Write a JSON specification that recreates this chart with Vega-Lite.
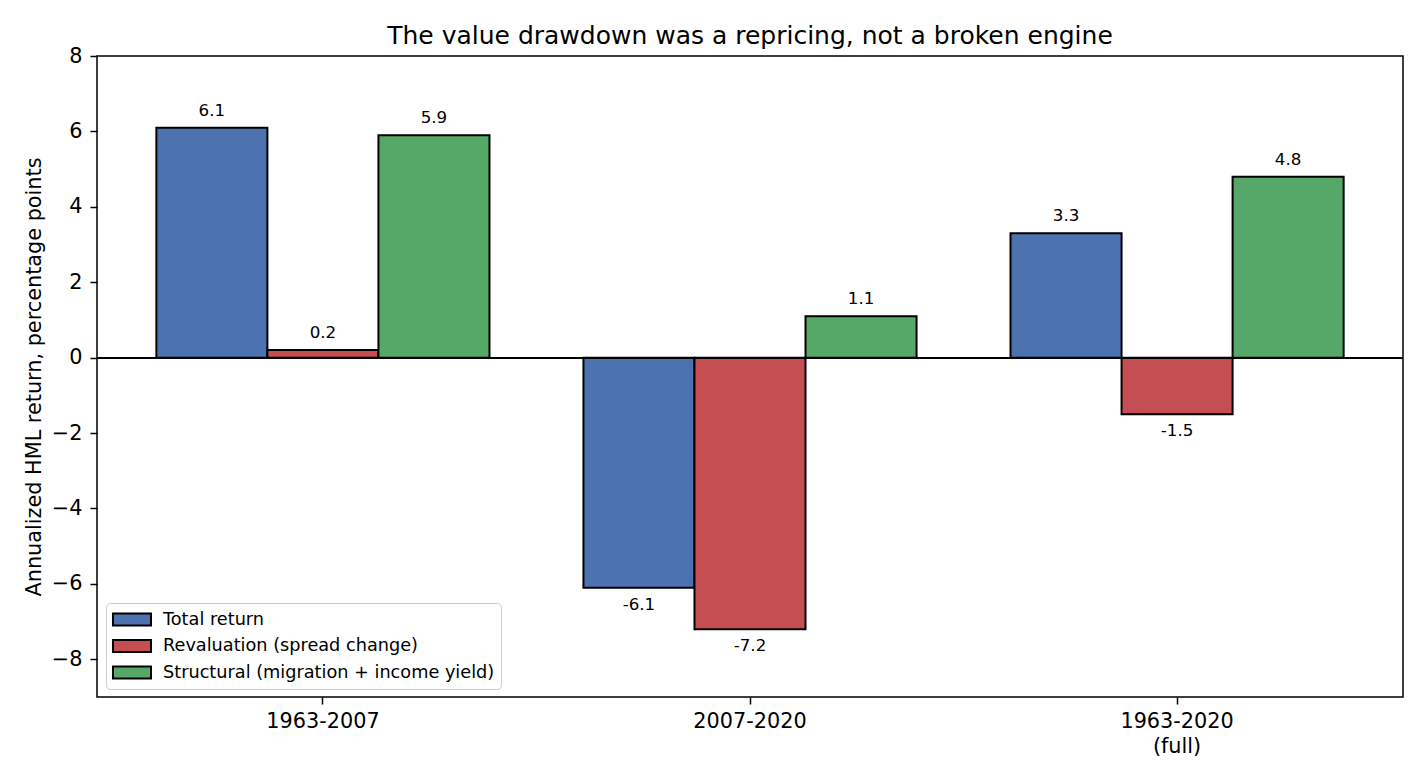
{
  "$schema": "https://vega.github.io/schema/vega-lite/v6.json",
  "width": 1306,
  "height": 641,
  "autosize": {"type": "none"},
  "padding": {"left": 97, "top": 56, "right": 22, "bottom": 83},
  "background": "white",
  "config": {
    "font": "DejaVu Sans",
    "view": {"stroke": "black", "strokeWidth": 1.5},
    "axis": {
      "domainColor": "black",
      "tickColor": "black",
      "labelColor": "black",
      "titleColor": "black",
      "labelFont": "DejaVu Sans",
      "titleFont": "DejaVu Sans",
      "grid": false
    }
  },
  "title": {
    "text": "The value drawdown was a repricing, not a broken engine",
    "font": "DejaVu Sans",
    "fontSize": 25,
    "fontWeight": "normal",
    "color": "black",
    "anchor": "middle",
    "baseline": "alphabetic",
    "offset": -24
  },
  "data": {
    "values": [
      {"period": "1963-2007", "series": "Total return", "value": 6.1, "label": "6.1"},
      {"period": "1963-2007", "series": "Revaluation (spread change)", "value": 0.2, "label": "0.2"},
      {"period": "1963-2007", "series": "Structural (migration + income yield)", "value": 5.9, "label": "5.9"},
      {"period": "2007-2020", "series": "Total return", "value": -6.1, "label": "-6.1"},
      {"period": "2007-2020", "series": "Revaluation (spread change)", "value": -7.2, "label": "-7.2"},
      {"period": "2007-2020", "series": "Structural (migration + income yield)", "value": 1.1, "label": "1.1"},
      {"period": "1963-2020 (full)", "series": "Total return", "value": 3.3, "label": "3.3"},
      {"period": "1963-2020 (full)", "series": "Revaluation (spread change)", "value": -1.5, "label": "-1.5"},
      {"period": "1963-2020 (full)", "series": "Structural (migration + income yield)", "value": 4.8, "label": "4.8"}
    ]
  },
  "layer": [
    {
      "mark": {"type": "bar", "stroke": "black", "strokeWidth": 2, "strokeJoin": "miter"},
      "encoding": {
        "x": {
          "field": "period", "type": "nominal",
          "sort": ["1963-2007", "2007-2020", "1963-2020 (full)"],
          "scale": {"paddingInner": 0.22, "paddingOuter": 0.139},
          "axis": {
            "title": null,
            "labelAngle": 0,
            "labelFontSize": 20.8,
            "labelPadding": 7,
            "labelLineHeight": 25,
            "tickSize": 7,
            "tickWidth": 1.5,
            "domain": false,
            "labelExpr": "split(datum.label, ' ')"
          }
        },
        "xOffset": {
          "field": "series", "type": "nominal",
          "sort": ["Total return", "Revaluation (spread change)", "Structural (migration + income yield)"],
          "scale": {"paddingInner": 0, "paddingOuter": 0}
        },
        "y": {
          "field": "value", "type": "quantitative",
          "scale": {"domain": [-9, 8], "nice": false, "zero": false},
          "axis": {
            "title": "Annualized HML return, percentage points",
            "titleFontSize": 20.8,
            "titleFontWeight": "normal",
            "titlePadding": 7,
            "values": [-8, -6, -4, -2, 0, 2, 4, 6, 8],
            "labelFontSize": 20.8,
            "labelPadding": 8,
            "tickSize": 7,
            "tickWidth": 1.5,
            "domain": false
          }
        },
        "color": {
          "field": "series", "type": "nominal",
          "sort": ["Total return", "Revaluation (spread change)", "Structural (migration + income yield)"],
          "scale": {"range": ["#4C72B0", "#C44E52", "#55A868"]},
          "legend": {
            "title": null,
            "orient": "none",
            "legendX": 9,
            "legendY": 547,
            "padding": 6,
            "strokeColor": "#cccccc",
            "fillColor": "rgba(255,255,255,0.8)",
            "cornerRadius": 4,
            "labelFontSize": 17.7,
            "labelColor": "black",
            "labelFont": "DejaVu Sans",
            "labelOffset": 30,
            "labelLimit": 500,
            "rowPadding": 5.5,
            "symbolType": "M-1,-0.64L3,-0.64L3,0.64L-1,0.64Z",
            "symbolSize": 361,
            "symbolStrokeColor": "black",
            "symbolStrokeWidth": 2,
            "symbolOpacity": 1,
            "symbolFillOpacity": 1
          }
        }
      }
    },
    {
      "mark": {"type": "rule", "color": "black", "strokeWidth": 1.5},
      "encoding": {"y": {"datum": 0}}
    },
    {
      "transform": [{"filter": "datum.value >= 0"}],
      "mark": {"type": "text", "baseline": "middle", "dy": -17, "fontSize": 16.7, "color": "black", "font": "DejaVu Sans"},
      "encoding": {
        "x": {"field": "period", "type": "nominal", "sort": ["1963-2007", "2007-2020", "1963-2020 (full)"]},
        "xOffset": {"field": "series", "type": "nominal", "sort": ["Total return", "Revaluation (spread change)", "Structural (migration + income yield)"]},
        "y": {"field": "value", "type": "quantitative"},
        "text": {"field": "label"}
      }
    },
    {
      "transform": [{"filter": "datum.value < 0"}],
      "mark": {"type": "text", "baseline": "middle", "dy": 17, "fontSize": 16.7, "color": "black", "font": "DejaVu Sans"},
      "encoding": {
        "x": {"field": "period", "type": "nominal", "sort": ["1963-2007", "2007-2020", "1963-2020 (full)"]},
        "xOffset": {"field": "series", "type": "nominal", "sort": ["Total return", "Revaluation (spread change)", "Structural (migration + income yield)"]},
        "y": {"field": "value", "type": "quantitative"},
        "text": {"field": "label"}
      }
    }
  ]
}
